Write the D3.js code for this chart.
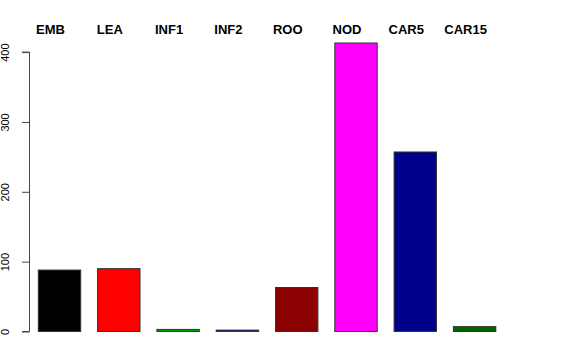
<!DOCTYPE html>
<html>
<head>
<meta charset="utf-8">
<script src="https://cdn.jsdelivr.net/npm/d3@7"></script>
<style>
  body { margin: 0; background: #fff; }
  text { font-family: "Liberation Sans", Arial, sans-serif; }
</style>
</head>
<body>
<div id="chart"></div>
<script>
// categories and values
var categories = ["EMB", "LEA", "INF1", "INF2", "ROO", "NOD", "CAR5", "CAR15"];
var counts = [88, 90, 3, 2, 63, 413, 257, 7];
var barColors = ["#000000", "#ff0000", "#00a000", "#00008b", "#8b0000", "#ff00ff", "#00008b", "#006400"];
var yTicks = [0, 100, 200, 300, 400];

var width = 576, height = 360;

var svg = d3.select("#chart").append("svg")
    .attr("width", width)
    .attr("height", height);

//x scale: first bar left edge to last bar right edge
var x = d3.scaleBand()
    .domain(categories)
    .range([38.3, 495.8])
    .paddingInner(0.285)
    .paddingOuter(0);

//y scale
var y = d3.scaleLinear()
    .domain([0, 400])
    .range([331.5, 52.1]);

// bars
svg.append("g")
    .selectAll("rect")
    .data(categories)
    .enter()
    .append("rect")
    .attr("x", (d) => x(d))
    .attr("width", x.bandwidth())
    .attr("y", (d, i) => y(counts[i]))
    .attr("height", (d, i) => y(0) - y(counts[i]))
    .attr("fill", (d, i) => barColors[i])
    .attr("stroke", "#333")
    .attr("stroke-width", 1);

// y axis
var axisG = svg.append("g")
    .attr("transform", "translate(29.5,0)")
    .call(d3.axisLeft(y).tickValues(yTicks).tickSize(7.5).tickPadding(0).tickFormat(d3.format("d")));

axisG.select(".domain").attr("stroke", "#444").attr("d", "M-7.5," + y(400) + "H0V" + y(0) + "H-7.5");
axisG.selectAll(".tick line").attr("stroke", "#444");
axisG.selectAll(".tick text")
    .attr("x", null)
    .attr("dy", null)
    .attr("transform", "translate(-21,0) rotate(-90)")
    .attr("text-anchor", "middle")
    .attr("fill", "#000")
    .style("font-size", "11px")
    .style("font-family", "Liberation Sans, Arial, sans-serif");

// category labels along the top, a bit left of each bar centre
svg.append("g")
    .selectAll("text")
    .data(categories)
    .enter()
    .append("text")
    .attr("x", (d) => x(d) + x.bandwidth() / 2 - 9)
    .attr("y", 34)
    .attr("text-anchor", "middle")
    .style("font-size", "13px")
    .style("font-weight", "bold")
    .text(d => d);
</script>
</body>
</html>
